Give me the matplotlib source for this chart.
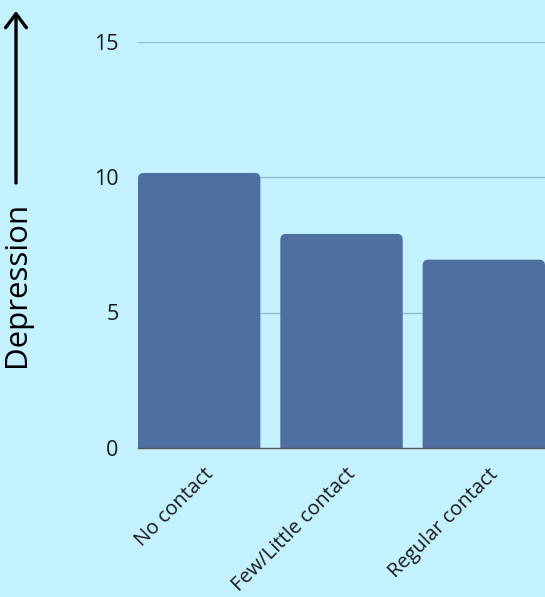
import matplotlib.pyplot as plt
import matplotlib.transforms as mtransforms
from matplotlib.patches import FancyBboxPatch

categories = ["No contact", "Few/Little contact", "Regular contact"]
values = [10.15, 7.9, 6.95]
yticks = [0, 5, 10, 15]

bg = "#c4f1fe"
bar_color = "#4f6f9f"

plt.rcParams['font.family'] = ['Open Sans', 'DejaVu Sans']

fig = plt.figure(figsize=(5.45, 5.97), dpi=100, facecolor=bg)
ax = fig.add_axes([138 / 545, 149 / 597, 407 / 545, 406.5 / 597])
ax.set_facecolor(bg)

# bars with rounded top corners (bottom hidden below the axis)
width = 0.86
for i, v in enumerate(values):
    box = FancyBboxPatch((i - width / 2, -1), width, v + 1,
                         boxstyle="round,pad=0,rounding_size=0.04",
                         mutation_aspect=5.3, facecolor=bar_color,
                         edgecolor="none", zorder=3)
    ax.add_patch(box)

ax.set_xlim(-0.43, 2.43)
ax.set_ylim(0, 15)
ax.set_yticks(yticks)
ax.set_yticklabels([str(t) for t in yticks], fontsize=15.5, color="#1a1a1a")
ax.set_xticks(range(len(categories)))
ax.set_xticklabels(categories, rotation=45, ha="right", va="center",
                   rotation_mode="anchor", fontsize=14.5, color="#1a1a1a")
ax.tick_params(axis="both", length=0)
ax.tick_params(axis="y", pad=14)
ax.tick_params(axis="x", pad=17)
shift = mtransforms.ScaledTranslation(11 / 100, 0, fig.dpi_scale_trans)
for lab in ax.get_xticklabels():
    lab.set_transform(lab.get_transform() + shift)

for t in yticks[1:]:
    ax.axhline(t, color="#8fb9c9", lw=0.9, zorder=1)

for s in ["top", "right", "left"]:
    ax.spines[s].set_visible(False)
ax.spines["bottom"].set_color("#555555")
ax.spines["bottom"].set_linewidth(1)
ax.spines["bottom"].set_zorder(4)

fig.text(17 / 545, 1 - 284 / 597, "Depression", rotation=90, fontsize=22.5,
         ha="center", va="center", color="black")
ax.annotate("", xy=(16 / 545, 1 - 11 / 597), xytext=(16 / 545, 1 - 183 / 597),
            xycoords="figure fraction", textcoords="figure fraction",
            arrowprops=dict(arrowstyle="->,head_length=1.0,head_width=0.75",
                            color="black", lw=2.4, shrinkA=0, shrinkB=0),
            annotation_clip=False)

fig.savefig("out.png", dpi=100, facecolor=bg)
